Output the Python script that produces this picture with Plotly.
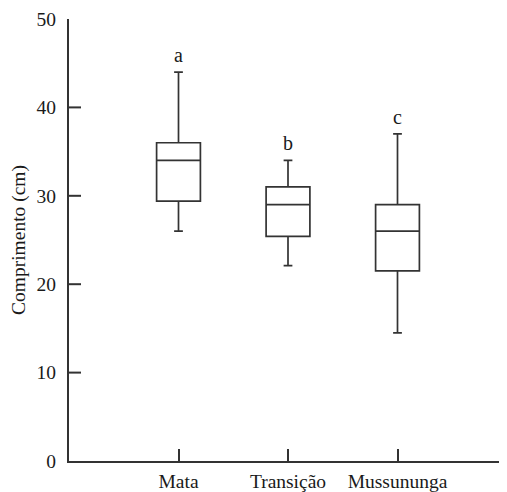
import plotly.graph_objects as go

categories = ["Mata", "Transição", "Mussununga"]
lower_fence = [26.0, 22.1, 14.5]
q1 = [29.4, 25.4, 21.5]
median = [34.0, 29.0, 26.0]
q3 = [36.0, 31.0, 29.0]
upper_fence = [44.0, 34.0, 37.0]
letters = ["a", "b", "c"]
y_labels = [0, 10, 20, 30, 40, 50]
y_marked_ticks = [10, 20, 30, 40]

FONT = "Liberation Serif, Times New Roman, serif"
INK = "#333333"
TXT = "#1a1a1a"

fig = go.Figure()
fig.add_trace(go.Box(
    x=categories,
    q1=q1, median=median, q3=q3,
    lowerfence=lower_fence, upperfence=upper_fence,
    width=0.4, whiskerwidth=0.2,
    fillcolor="white",
    line=dict(color=INK, width=1.7),
    boxpoints=False,
    showlegend=False,
    hoverinfo="skip",
))

for cat, top, lab in zip(categories, upper_fence, letters):
    fig.add_annotation(x=cat, y=top, text=lab, showarrow=False,
                       yanchor="bottom", yshift=4,
                       font=dict(family=FONT, size=20, color=TXT))

# inward y tick marks at the y-scale values (about 12px long)
PLOT_W = 507 - 61 - 8
for v in y_marked_ticks:
    fig.add_shape(type="line", xref="paper", yref="y",
                  x0=0, x1=12 / PLOT_W, y0=v, y1=v,
                  line=dict(color=INK, width=2), layer="above")

tickfont = dict(family=FONT, size=19.5, color=TXT)

# the page has an 8px body margin, so the margins compensate for it
fig.update_layout(
    width=507, height=492,
    margin=dict(l=61, r=8, t=11, b=39),
    plot_bgcolor="rgba(0,0,0,0)", paper_bgcolor="white",
    font=dict(family=FONT, size=19.5, color=TXT),
    xaxis=dict(
        type="category", categoryorder="array", categoryarray=categories,
        range=[-1, 3], automargin=False,
        showline=True, linecolor=INK, linewidth=2,
        ticks="inside", ticklen=12, tickwidth=1.5, tickcolor=INK,
        showgrid=False, zeroline=False,
        ticklabelstandoff=2,
        tickfont=tickfont,
    ),
    yaxis=dict(
        range=[0, 50], tickmode="array", tickvals=y_labels, automargin=False,
        showline=True, linecolor=INK, linewidth=2,
        ticks="", showgrid=False, zeroline=False,
        ticklabelstandoff=7,
        tickfont=tickfont,
        title=dict(text="Comprimento (cm)", standoff=13, font=tickfont),
    ),
)

fig.write_html("out.html")
